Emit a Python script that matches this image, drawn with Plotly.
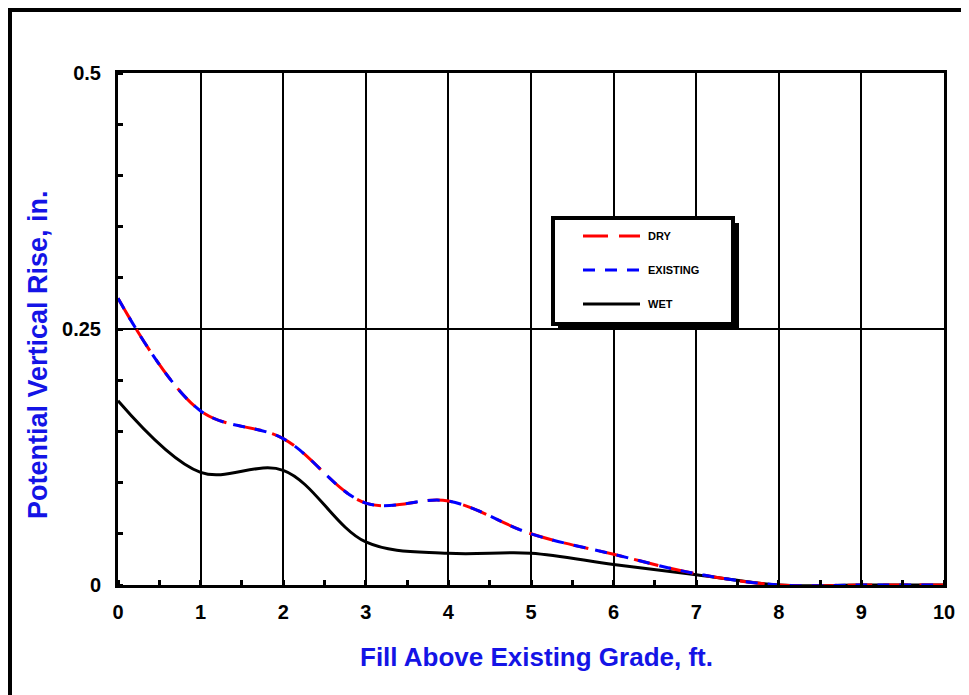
import plotly.graph_objects as go

fill_ft = [0, 1, 2, 3, 4, 5, 6, 7, 8, 9, 10]
dry = [0.280, 0.170, 0.143, 0.080, 0.082, 0.050, 0.030, 0.011, 0.0, 0.0, 0.0]
existing = [0.280, 0.170, 0.143, 0.080, 0.082, 0.050, 0.030, 0.011, 0.0, 0.0, 0.0]
wet = [0.180, 0.110, 0.112, 0.042, 0.031, 0.031, 0.020, 0.010, 0.0, 0.0, 0.0]
x_ticks = [0, 1, 2, 3, 4, 5, 6, 7, 8, 9, 10]
y_ticks = [0, 0.25, 0.5]
y_tick_text = ["0", "0.25", "0.5"]
legend_names = ["DRY", "EXISTING", "WET"]

FONT = "Arial, 'Liberation Sans', sans-serif"
BLUE = "#1414e6"

fig = go.Figure()
fig.add_trace(go.Scatter(x=fill_ft, y=wet, mode="lines", name="WET",
                         line=dict(color="black", width=3, shape="spline", smoothing=1)))
fig.add_trace(go.Scatter(x=fill_ft, y=dry, mode="lines", name="DRY",
                         line=dict(color="#ff0000", width=3, shape="spline", smoothing=1,
                                   dash="25px,11px")))
fig.add_trace(go.Scatter(x=fill_ft, y=existing, mode="lines", name="EXISTING",
                         line=dict(color="#0000ff", width=3, shape="spline", smoothing=1,
                                   dash="12px,10px")))

# page body has an 8px margin; figure is sized to fit the 969x695 window
OFF = 8
W, H = 969 - OFF, 695 - OFF
PL, PR, PT, PB = 118, 944, 73, 585   # plot area in screen pixels
L, R, T = PL - OFF, 969 - PR, PT - OFF
B = H - (PB - OFF)
pw, ph = PR - PL, PB - PT


def px(xs):
    return (xs - PL) / pw


def py(ys):
    return (PB - ys) / ph


shapes = []
# outer frame
shapes.append(dict(type="rect", xref="paper", yref="paper",
                   x0=px(10), x1=px(1100), y0=py(1000), y1=py(10),
                   line=dict(color="black", width=4), layer="below"))
# legend shadow and box
shapes.append(dict(type="rect", xref="paper", yref="paper",
                   x0=px(558), x1=px(739), y0=py(330), y1=py(223),
                   fillcolor="black", line=dict(color="black", width=0)))
shapes.append(dict(type="rect", xref="paper", yref="paper",
                   x0=px(553), x1=px(733), y0=py(324), y1=py(218),
                   fillcolor="white", line=dict(color="black", width=4)))
leg_y = [236, 270, 304]
leg_style = [("#ff0000", "25px,11px"), ("#0000ff", "12px,10px"), ("black", "solid")]
annotations = []
for name, yy, (c, d) in zip(legend_names, leg_y, leg_style):
    shapes.append(dict(type="line", xref="paper", yref="paper",
                       x0=px(583), x1=px(640), y0=py(yy), y1=py(yy),
                       line=dict(color=c, width=3, dash=d)))
    annotations.append(dict(xref="paper", yref="paper", x=px(646), y=py(yy),
                            text=name, showarrow=False, xanchor="left", yanchor="middle",
                            font=dict(family=FONT, size=11, color="black", weight="bold")))

# axis titles
annotations.append(dict(xref="paper", yref="paper", x=px(536), y=py(657),
                        text="Fill Above Existing Grade, ft.", showarrow=False,
                        xanchor="center", yanchor="middle",
                        font=dict(family=FONT, size=26, color=BLUE, weight="bold")))
annotations.append(dict(xref="paper", yref="paper", x=px(38), y=py(355),
                        text="Potential Vertical Rise, in.", showarrow=False,
                        xanchor="center", yanchor="middle", textangle=-90,
                        font=dict(family=FONT, size=27, color=BLUE, weight="bold")))

fig.update_layout(
    width=W, height=H,
    margin=dict(l=L, r=R, t=T, b=B, pad=0),
    paper_bgcolor="white", plot_bgcolor="white",
    showlegend=False,
    shapes=shapes,
    annotations=annotations,
    font=dict(family=FONT, color="black"),
)
fig.update_xaxes(
    range=[0, 10], tickvals=x_ticks, ticktext=[str(v) for v in x_ticks],
    showgrid=True, gridcolor="black", gridwidth=2,
    showline=True, linecolor="black", linewidth=3, mirror=True,
    ticks="", zeroline=False, ticklabelstandoff=7,
    tickfont=dict(family=FONT, size=20, color="black", weight="bold"),
    minor=dict(dtick=0.5, tick0=0, ticks="inside", ticklen=5, tickwidth=3,
               tickcolor="black", showgrid=False),
)
fig.update_yaxes(
    range=[0, 0.5], tickvals=y_ticks, ticktext=y_tick_text,
    showgrid=True, gridcolor="black", gridwidth=1.5,
    showline=True, linecolor="black", linewidth=3, mirror=True,
    ticks="", zeroline=False, ticklabelstandoff=10,
    tickfont=dict(family=FONT, size=20, color="black", weight="bold"),
    minor=dict(dtick=0.05, tick0=0, ticks="inside", ticklen=5, tickwidth=3,
               tickcolor="black", showgrid=False),
)

fig.write_html("out.html")
